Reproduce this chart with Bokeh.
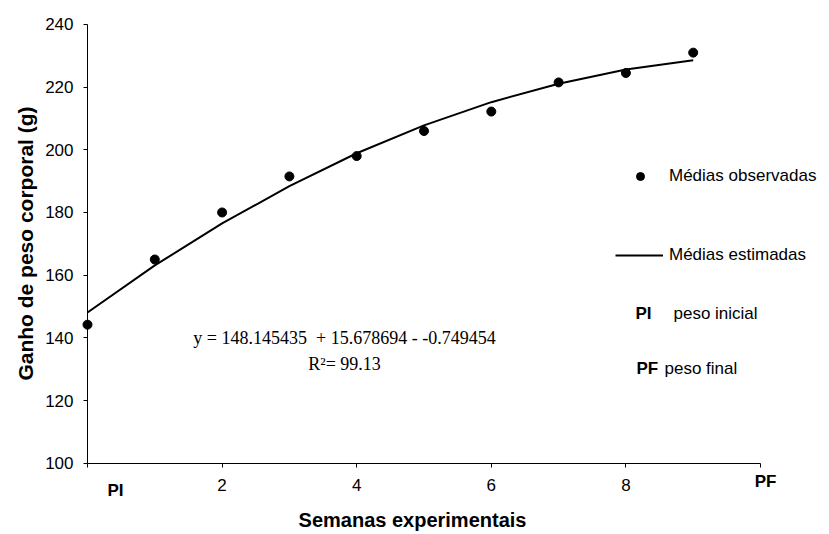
import math
from bokeh.plotting import figure
from bokeh.models import Label, FixedTicker, Range1d, Legend, LegendItem
from bokeh.embed import file_html
from bokeh.resources import INLINE

# ---- data ----
weeks = [0, 1, 2, 3, 4, 5, 6, 7, 8, 9]
observed = [144.2, 165.0, 180.0, 191.5, 198.0, 206.0, 212.2, 221.5, 224.5, 231.0]
estimated = [148.1, 163.1, 176.5, 188.4, 198.9, 207.8, 215.2, 221.1, 225.6, 228.6]
x_ticks = [0, 2, 4, 6, 8, 10]
x_tick_labels = {0: "", 2: "2", 4: "4", 6: "6", 8: "8", 10: ""}
y_ticks = [100, 120, 140, 160, 180, 200, 220, 240]
x_title = "Semanas experimentais"
y_title = "Ganho de peso corporal (g)"
equation_text = "y = 148.145435\u00a0 + 15.678694 - -0.749454"
r2_text = "R\u00b2= 99.13"

SANS = "Liberation Sans"
SERIF = "Liberation Serif"

# ---- layout (pixels) ----
W, H = 821, 532
X0_PX, X_PER = 87.0, 67.3      # pixel of x=0, pixels per week
Y100_PX, Y_PER = 462.7, 3.134  # pixel of y=100, pixels per gram

def dx(px):
    return (px - X0_PX) / X_PER

def dy(py):
    return 100 + (Y100_PX - py) / Y_PER

p = figure(width=W, height=H,
           x_range=Range1d(dx(0), dx(W)), y_range=Range1d(dy(H), dy(0)),
           output_backend="svg", toolbar_location=None, min_border=0)
p.outline_line_color = None
p.xgrid.visible = False
p.ygrid.visible = False
p.background_fill_color = "white"
p.border_fill_color = "white"

line_r = p.line(weeks, estimated, line_color="black", line_width=2)
pts_r = p.scatter(weeks, observed, size=9, color="black")

# axes (placed at data positions)
xa = p.xaxis[0]
xa.fixed_location = 100
xa.bounds = (0, 10)
xa.ticker = FixedTicker(ticks=x_ticks)
xa.major_label_overrides = {k: v for k, v in x_tick_labels.items()}
xa.minor_tick_line_color = None
xa.major_tick_in = 0
xa.major_tick_out = 4
xa.axis_line_color = "black"
xa.major_tick_line_color = "black"
xa.major_label_text_font = SANS
xa.major_label_text_font_size = "17px"
xa.major_label_text_color = "black"
xa.major_label_standoff = 12

ya = p.yaxis[0]
ya.fixed_location = 0
ya.bounds = (100, 240)
ya.ticker = FixedTicker(ticks=y_ticks)
ya.minor_tick_line_color = None
ya.major_tick_in = 0
ya.major_tick_out = 4
ya.axis_line_color = "black"
ya.major_tick_line_color = "black"
ya.major_label_text_font = SANS
ya.major_label_text_font_size = "17px"
ya.major_label_text_color = "black"
ya.major_label_standoff = 10

def label(x, y, text, size="17px", bold=False, font=SANS, align="left", angle=0.0):
    p.add_layout(Label(x=x, y=y, text=text, angle=angle, text_font=font,
                       text_font_style="bold" if bold else "normal",
                       text_font_size=size, text_color="black",
                       text_align=align, text_baseline="middle"))

# axis titles
label(dx(25), dy(243), y_title, size="21px", bold=True, align="center", angle=math.pi / 2)
label(dx(412), dy(519), x_title, size="20px", bold=True, align="center")

# PI / PF tick labels
label(dx(115), dy(490), "PI", bold=True, align="center")
label(dx(765), dy(481), "PF", bold=True, align="center")

# equation
label(dx(344), dy(337), equation_text, size="18px", font=SERIF, align="center")
label(dx(344), dy(363), r2_text, size="18px", font=SERIF, align="center")

# legends
def make_legend(item, left_px, center_py, gw, standoff):
    return Legend(items=[item], location=(left_px, H - (center_py + 10)),
                  glyph_width=gw, glyph_height=20,
                  label_standoff=standoff, padding=0, margin=0, spacing=0,
                  border_line_color=None, background_fill_alpha=0,
                  label_text_font=SANS, label_text_font_size="17px",
                  label_text_color="black")

p.add_layout(make_legend(LegendItem(label="Médias observadas", renderers=[pts_r]),
                         630, 176, 20, 19), "center")
p.add_layout(make_legend(LegendItem(label="Médias estimadas", renderers=[line_r]),
                         615, 255, 48, 6), "center")

label(dx(635), dy(313), "PI", bold=True)
label(dx(673), dy(313), "peso inicial")
label(dx(636), dy(368), "PF", bold=True)
label(dx(664), dy(368), "peso final")

open("out.html", "w").write(file_html(p, INLINE))
